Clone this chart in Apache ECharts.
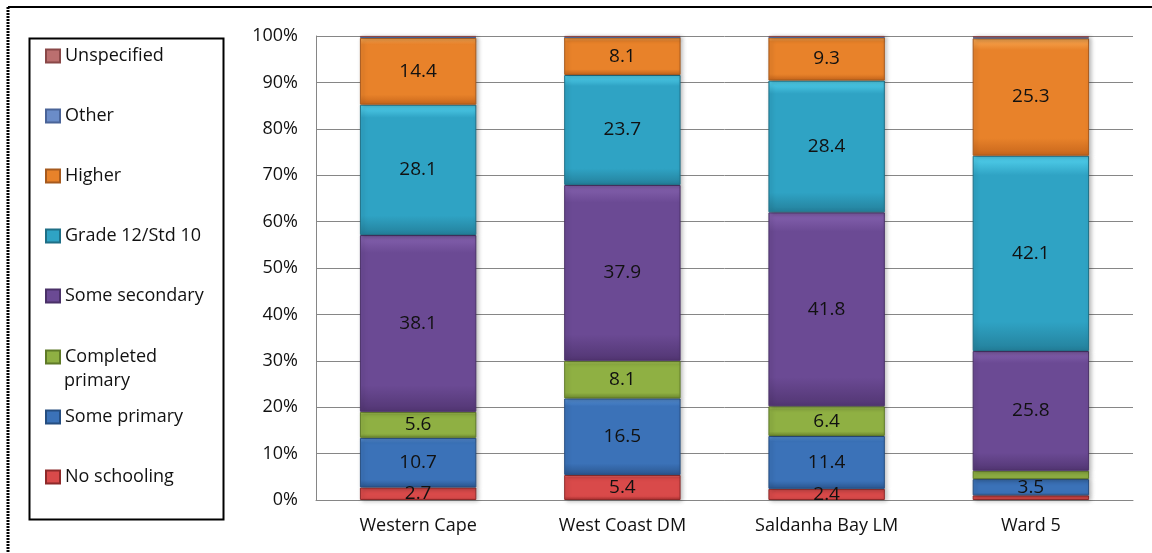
<!DOCTYPE html>
<html>
<head>
<meta charset="utf-8">
<script src="https://cdn.jsdelivr.net/npm/echarts@6/dist/echarts.min.js"></script>
<style>
  html, body { margin: 0; padding: 0; background: #ffffff; }
  #chart { width: 1152px; height: 553px; }
</style>
</head>
<body>
<div id="chart"></div>
<script>
// Highest level of education, by area (percent of population)
const categories = ['Western Cape', 'West Coast DM', 'Saldanha Bay LM', 'Ward 5'];

const noSchooling      = [2.7, 5.4, 2.4, 1.0];
const somePrimary      = [10.7, 16.5, 11.4, 3.5];
const completedPrimary = [5.6, 8.1, 6.4, 1.8];
const someSecondary    = [38.1, 37.9, 41.8, 25.8];
const grade12          = [28.1, 23.7, 28.4, 42.1];
const higher           = [14.4, 8.1, 9.3, 25.3];
const other            = [0.2, 0.1, 0.1, 0.2];
const unspecified      = [0.2, 0.2, 0.2, 0.3];

const yTicks = [0, 10, 20, 30, 40, 50, 60, 70, 80, 90, 100];

const FONT = 'Open Sans';

// series drawn bottom-up in the stack
const seriesDefs = [
  { name: 'No schooling',      data: noSchooling,      top: '#f57474', mid: '#d94a4a', bot: '#a82f2f', edge: '#8e2a2a' },
  { name: 'Some primary',      data: somePrimary,      top: '#5a95dc', mid: '#3b72b8', bot: '#2b5790', edge: '#264e80' },
  { name: 'Completed primary', data: completedPrimary, top: '#b2d260', mid: '#8fb043', bot: '#6f8b30', edge: '#5f7a28' },
  { name: 'Some secondary',    data: someSecondary,    top: '#8663b0', mid: '#6b4a94', bot: '#523673', edge: '#4a3168' },
  { name: 'Grade 12/Std 10',   data: grade12,          top: '#54d4f0', mid: '#2fa3c4', bot: '#24809b', edge: '#1f6f86' },
  { name: 'Higher',            data: higher,           top: '#fbab55', mid: '#e8822a', bot: '#c7661c', edge: '#a65a1e' },
  { name: 'Other',             data: other,            top: '#86a4d8', mid: '#6b8cc8', bot: '#4f6ea8', edge: '#4a6498' },
  { name: 'Unspecified',       data: unspecified,      top: '#d08a8a', mid: '#bb6f6f', bot: '#944f4f', edge: '#8a4848' }
];

const series = seriesDefs.map(d => ({
  name: d.name,
  type: 'bar',
  stack: 'edu',
  barWidth: '57%',
  data: d.data,
  itemStyle: {
    color: new echarts.graphic.LinearGradient(0, 0, 0, 1, [
      { offset: 0, color: d.top },
      { offset: 0.1, color: d.mid },
      { offset: 0.85, color: d.mid },
      { offset: 1, color: d.bot }
    ]),
    borderColor: d.edge,
    borderWidth: 1,
    shadowColor: 'rgba(0,0,0,0.25)',
    shadowBlur: 4,
    shadowOffsetX: 2,
    shadowOffsetY: 1
  },
  label: {
    show: true,
    position: 'inside',
    color: '#111111',
    fontFamily: FONT,
    fontSize: 19,
    formatter: p => (p.value >= 2 ? p.value.toFixed(1) : '')
  },
  emphasis: { disabled: true }
}));

// legend rows, listed top to bottom inside the key box
const legendRows = [
  { name: 'Unspecified',       cy: 54 },
  { name: 'Other',             cy: 114 },
  { name: 'Higher',            cy: 174 },
  { name: 'Grade 12/Std 10',   cy: 234 },
  { name: 'Some secondary',    cy: 294 },
  { name: 'Completed primary', cy: 355 },
  { name: 'Some primary',      cy: 415 },
  { name: 'No schooling',      cy: 475 }
];

const legends = legendRows.map(r => ({
  data: [r.name],
  orient: 'vertical',
  left: 45,
  top: r.cy - 7,
  itemWidth: 14,
  itemHeight: 13,
  icon: 'rect',
  padding: 0,
  selectedMode: false,
  // the long label wraps: first word beside the swatch, the rest on the line below
  formatter: n => (n === 'Completed primary' ? 'Completed' : n),
  textStyle: { fontFamily: FONT, fontSize: 18, color: '#111111' }
}));

const chart = echarts.init(document.getElementById('chart'), null, { renderer: 'canvas' });
chart.setOption({
  animation: false,
  backgroundColor: '#ffffff',
  grid: { left: 316, right: 19, top: 36, bottom: 53, containLabel: false },
  legend: legends,
  xAxis: {
    type: 'category',
    data: categories,
    axisLine: { lineStyle: { color: '#868686', width: 1 } },
    axisTick: { show: false },
    axisLabel: { fontFamily: FONT, fontSize: 18, color: '#111111', margin: 17 }
  },
  yAxis: {
    type: 'value',
    min: yTicks[0],
    max: yTicks[yTicks.length - 1],
    interval: 10,
    axisLine: { show: true, lineStyle: { color: '#868686', width: 1 } },
    axisTick: { show: false },
    splitLine: { lineStyle: { color: '#868686', width: 1 } },
    axisLabel: { fontFamily: FONT, fontSize: 18, color: '#111111', margin: 18, formatter: '{value}%' }
  },
  series: series,
  graphic: [
    // outer frame (top and left edges)
    { type: 'line', shape: { x1: 8, y1: 7, x2: 1152, y2: 7 }, style: { stroke: '#000000', lineWidth: 2 } },
    { type: 'line', shape: { x1: 8, y1: 7, x2: 8, y2: 553 }, style: { stroke: '#000000', lineWidth: 3, lineDash: [2, 1] } },
    // key box
    { type: 'rect', shape: { x: 29.5, y: 38.5, width: 194, height: 481 }, style: { fill: 'none', stroke: '#000000', lineWidth: 2 }, z: -1 },
    // second line of the "Completed primary" key entry
    { type: 'text', x: 64, y: 381, style: { text: 'primary', fontFamily: FONT, fontSize: 18, fill: '#111111', verticalAlign: 'middle' } }
  ]
});
</script>
</body>
</html>
